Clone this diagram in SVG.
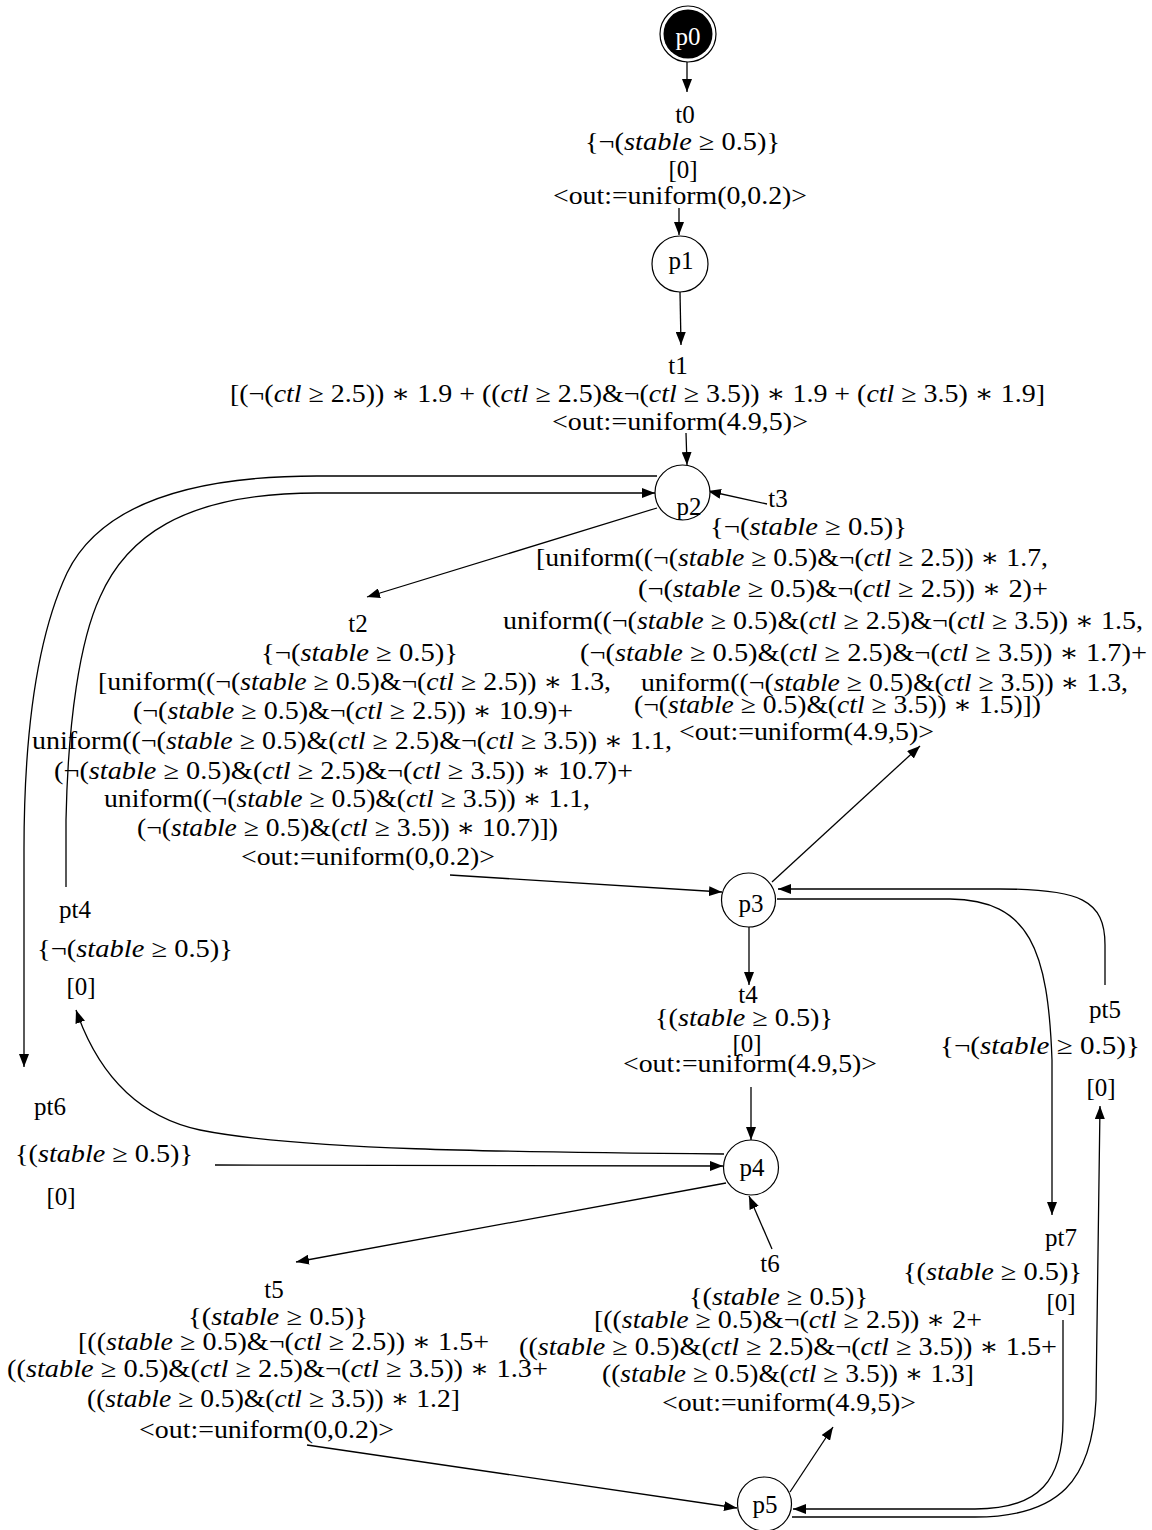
<svg xmlns="http://www.w3.org/2000/svg" width="1152" height="1530" viewBox="0 0 1152 1530">
<style>
.t{font-family:"Liberation Serif","DejaVu Serif",serif;font-size:25px;fill:#000}
.m{text-anchor:middle}
.w{fill:#fff}
.i{font-style:italic}
.n{fill:#fff;stroke:#000;stroke-width:1.2}
.e{fill:none;stroke:#000;stroke-width:1.3;marker-end:url(#ah)}
</style>
<defs>
<marker id="ah" markerWidth="14" markerHeight="10" refX="13" refY="5" orient="auto" markerUnits="userSpaceOnUse"><path d="M0,0 L13,5 L0,10 z" fill="#000"/></marker>
</defs>
<rect width="1152" height="1530" fill="#fff"/>
<g id="connectors">
<path class="e" d="M687,62 L687,92"/>
<path class="e" d="M679,208 L679,235"/>
<path class="e" d="M680,292 L681,345"/>
<path class="e" d="M686,433 L687,465"/>
<path class="e" d="M657,476 L317,476 C190,476 100,505 67,573 C45,620 24,700 24,850 L24,1067"/>
<path class="e" d="M66,887 L66,820 C68,720 80,640 100,597 C125,540 180,493 317,493 L655,493"/>
<path class="e" d="M657,508 L367,597"/>
<path class="e" d="M767,504 L708,491"/>
<path class="e" d="M772,882 L920,746"/>
<path class="e" d="M450,875 L722,892"/>
<path class="e" d="M749,927 L749,985"/>
<path class="e" d="M751,1087 L751,1140"/>
<path class="e" d="M777,899 L950,899 C1030,900 1048,950 1052,1060 L1052,1215"/>
<path class="e" d="M1105,985 L1105,945 C1105,900 1080,889 1000,889 L778,889"/>
<path class="e" d="M724,1154 C500,1152 300,1150 200,1130 C130,1115 95,1065 76,1010"/>
<path class="e" d="M215,1165 L723,1166"/>
<path class="e" d="M726,1183 L296,1262"/>
<path class="e" d="M772,1249 L749,1196"/>
<path class="e" d="M307,1445 L737,1508"/>
<path class="e" d="M790,1492 L833,1427"/>
<path class="e" d="M1063,1320 L1063,1420 C1063,1480 1040,1509 975,1509 L793,1509"/>
<path class="e" d="M792,1517 L975,1517 C1060,1517 1092,1480 1096,1400 L1100,1106"/>
</g>
<g id="p0"><circle class="n" cx="688" cy="34" r="28"/><circle cx="688" cy="34" r="24.5" fill="#000"/><text class="t w m" x="688" y="45">p0</text></g>
<g id="p1"><circle class="n" cx="680" cy="264" r="28"/><text class="t m" x="681" y="269">p1</text></g>
<g id="p2"><circle class="n" cx="682.5" cy="492.5" r="27.5"/><text class="t m" x="689" y="515">p2</text></g>
<g id="p3"><circle class="n" cx="748.5" cy="900" r="27"/><text class="t m" x="751" y="912">p3</text></g>
<g id="p4"><circle class="n" cx="751" cy="1167.5" r="27.5"/><text class="t m" x="752" y="1176">p4</text></g>
<g id="p5"><circle class="n" cx="764.5" cy="1504" r="27"/><text class="t m" x="765" y="1513">p5</text></g>
<g id="t0">
<text class="t m" x="685" y="123">t0</text>
<text class="t" x="585" y="150" textLength="195" lengthAdjust="spacingAndGlyphs">{¬(<tspan class="i">stable</tspan> ≥ 0.5)}</text>
<text class="t m" x="683" y="178">[0]</text>
<text class="t" x="553" y="204" textLength="254" lengthAdjust="spacingAndGlyphs">&lt;out:=uniform(0,0.2)&gt;</text>
</g>
<g id="t1">
<text class="t m" x="678" y="374">t1</text>
<text class="t" x="230" y="402" textLength="815" lengthAdjust="spacingAndGlyphs">[(¬(<tspan class="i">ctl</tspan> ≥ 2.5)) ∗ 1.9 + ((<tspan class="i">ctl</tspan> ≥ 2.5)&amp;¬(<tspan class="i">ctl</tspan> ≥ 3.5)) ∗ 1.9 + (<tspan class="i">ctl</tspan> ≥ 3.5) ∗ 1.9]</text>
<text class="t" x="552" y="430" textLength="256" lengthAdjust="spacingAndGlyphs">&lt;out:=uniform(4.9,5)&gt;</text>
</g>
<g id="t3">
<text class="t m" x="778" y="507">t3</text>
<text class="t" x="710" y="535" textLength="197" lengthAdjust="spacingAndGlyphs">{¬(<tspan class="i">stable</tspan> ≥ 0.5)}</text>
<text class="t" x="536" y="566" textLength="512" lengthAdjust="spacingAndGlyphs">[uniform((¬(<tspan class="i">stable</tspan> ≥ 0.5)&amp;¬(<tspan class="i">ctl</tspan> ≥ 2.5)) ∗ 1.7,</text>
<text class="t" x="638" y="597" textLength="410" lengthAdjust="spacingAndGlyphs">(¬(<tspan class="i">stable</tspan> ≥ 0.5)&amp;¬(<tspan class="i">ctl</tspan> ≥ 2.5)) ∗ 2)+</text>
<text class="t" x="503" y="629" textLength="640" lengthAdjust="spacingAndGlyphs">uniform((¬(<tspan class="i">stable</tspan> ≥ 0.5)&amp;(<tspan class="i">ctl</tspan> ≥ 2.5)&amp;¬(<tspan class="i">ctl</tspan> ≥ 3.5)) ∗ 1.5,</text>
<text class="t" x="580" y="661" textLength="567" lengthAdjust="spacingAndGlyphs">(¬(<tspan class="i">stable</tspan> ≥ 0.5)&amp;(<tspan class="i">ctl</tspan> ≥ 2.5)&amp;¬(<tspan class="i">ctl</tspan> ≥ 3.5)) ∗ 1.7)+</text>
<text class="t" x="641" y="691" textLength="487" lengthAdjust="spacingAndGlyphs">uniform((¬(<tspan class="i">stable</tspan> ≥ 0.5)&amp;(<tspan class="i">ctl</tspan> ≥ 3.5)) ∗ 1.3,</text>
<text class="t" x="634" y="713" textLength="407" lengthAdjust="spacingAndGlyphs">(¬(<tspan class="i">stable</tspan> ≥ 0.5)&amp;(<tspan class="i">ctl</tspan> ≥ 3.5)) ∗ 1.5)])</text>
<text class="t" x="679" y="740" textLength="255" lengthAdjust="spacingAndGlyphs">&lt;out:=uniform(4.9,5)&gt;</text>
</g>
<g id="t2">
<text class="t m" x="358" y="632">t2</text>
<text class="t" x="261" y="661" textLength="197" lengthAdjust="spacingAndGlyphs">{¬(<tspan class="i">stable</tspan> ≥ 0.5)}</text>
<text class="t" x="98" y="690" textLength="513" lengthAdjust="spacingAndGlyphs">[uniform((¬(<tspan class="i">stable</tspan> ≥ 0.5)&amp;¬(<tspan class="i">ctl</tspan> ≥ 2.5)) ∗ 1.3,</text>
<text class="t" x="133" y="719" textLength="440" lengthAdjust="spacingAndGlyphs">(¬(<tspan class="i">stable</tspan> ≥ 0.5)&amp;¬(<tspan class="i">ctl</tspan> ≥ 2.5)) ∗ 10.9)+</text>
<text class="t" x="32" y="749" textLength="640" lengthAdjust="spacingAndGlyphs">uniform((¬(<tspan class="i">stable</tspan> ≥ 0.5)&amp;(<tspan class="i">ctl</tspan> ≥ 2.5)&amp;¬(<tspan class="i">ctl</tspan> ≥ 3.5)) ∗ 1.1,</text>
<text class="t" x="54" y="779" textLength="579" lengthAdjust="spacingAndGlyphs">(¬(<tspan class="i">stable</tspan> ≥ 0.5)&amp;(<tspan class="i">ctl</tspan> ≥ 2.5)&amp;¬(<tspan class="i">ctl</tspan> ≥ 3.5)) ∗ 10.7)+</text>
<text class="t" x="104" y="807" textLength="486" lengthAdjust="spacingAndGlyphs">uniform((¬(<tspan class="i">stable</tspan> ≥ 0.5)&amp;(<tspan class="i">ctl</tspan> ≥ 3.5)) ∗ 1.1,</text>
<text class="t" x="137" y="836" textLength="421" lengthAdjust="spacingAndGlyphs">(¬(<tspan class="i">stable</tspan> ≥ 0.5)&amp;(<tspan class="i">ctl</tspan> ≥ 3.5)) ∗ 10.7)])</text>
<text class="t" x="241" y="865" textLength="254" lengthAdjust="spacingAndGlyphs">&lt;out:=uniform(0,0.2)&gt;</text>
</g>
<g id="t4">
<text class="t m" x="748" y="1003">t4</text>
<text class="t" x="655" y="1026" textLength="178" lengthAdjust="spacingAndGlyphs">{(<tspan class="i">stable</tspan> ≥ 0.5)}</text>
<text class="t m" x="747" y="1052">[0]</text>
<text class="t" x="623" y="1072" textLength="254" lengthAdjust="spacingAndGlyphs">&lt;out:=uniform(4.9,5)&gt;</text>
</g>
<g id="pt5">
<text class="t m" x="1105" y="1018">pt5</text>
<text class="t" x="940" y="1054" textLength="200" lengthAdjust="spacingAndGlyphs">{¬(<tspan class="i">stable</tspan> ≥ 0.5)}</text>
<text class="t m" x="1101" y="1096">[0]</text>
</g>
<g id="pt4">
<text class="t m" x="75" y="918">pt4</text>
<text class="t" x="37" y="957" textLength="196" lengthAdjust="spacingAndGlyphs">{¬(<tspan class="i">stable</tspan> ≥ 0.5)}</text>
<text class="t m" x="81" y="995">[0]</text>
</g>
<g id="pt6">
<text class="t m" x="50" y="1115">pt6</text>
<text class="t" x="15" y="1162" textLength="178" lengthAdjust="spacingAndGlyphs">{(<tspan class="i">stable</tspan> ≥ 0.5)}</text>
<text class="t m" x="61" y="1205">[0]</text>
</g>
<g id="pt7">
<text class="t m" x="1061" y="1246">pt7</text>
<text class="t" x="903" y="1280" textLength="179" lengthAdjust="spacingAndGlyphs">{(<tspan class="i">stable</tspan> ≥ 0.5)}</text>
<text class="t m" x="1061" y="1311">[0]</text>
</g>
<g id="t5">
<text class="t m" x="274" y="1298">t5</text>
<text class="t" x="188" y="1325" textLength="180" lengthAdjust="spacingAndGlyphs">{(<tspan class="i">stable</tspan> ≥ 0.5)}</text>
<text class="t" x="78" y="1350" textLength="411" lengthAdjust="spacingAndGlyphs">[((<tspan class="i">stable</tspan> ≥ 0.5)&amp;¬(<tspan class="i">ctl</tspan> ≥ 2.5)) ∗ 1.5+</text>
<text class="t" x="7" y="1377" textLength="541" lengthAdjust="spacingAndGlyphs">((<tspan class="i">stable</tspan> ≥ 0.5)&amp;(<tspan class="i">ctl</tspan> ≥ 2.5)&amp;¬(<tspan class="i">ctl</tspan> ≥ 3.5)) ∗ 1.3+</text>
<text class="t" x="87" y="1407" textLength="373" lengthAdjust="spacingAndGlyphs">((<tspan class="i">stable</tspan> ≥ 0.5)&amp;(<tspan class="i">ctl</tspan> ≥ 3.5)) ∗ 1.2]</text>
<text class="t" x="139" y="1438" textLength="255" lengthAdjust="spacingAndGlyphs">&lt;out:=uniform(0,0.2)&gt;</text>
</g>
<g id="t6">
<text class="t m" x="770" y="1272">t6</text>
<text class="t" x="689" y="1305" textLength="179" lengthAdjust="spacingAndGlyphs">{(<tspan class="i">stable</tspan> ≥ 0.5)}</text>
<text class="t" x="594" y="1328" textLength="388" lengthAdjust="spacingAndGlyphs">[((<tspan class="i">stable</tspan> ≥ 0.5)&amp;¬(<tspan class="i">ctl</tspan> ≥ 2.5)) ∗ 2+</text>
<text class="t" x="519" y="1355" textLength="538" lengthAdjust="spacingAndGlyphs">((<tspan class="i">stable</tspan> ≥ 0.5)&amp;(<tspan class="i">ctl</tspan> ≥ 2.5)&amp;¬(<tspan class="i">ctl</tspan> ≥ 3.5)) ∗ 1.5+</text>
<text class="t" x="602" y="1382" textLength="372" lengthAdjust="spacingAndGlyphs">((<tspan class="i">stable</tspan> ≥ 0.5)&amp;(<tspan class="i">ctl</tspan> ≥ 3.5)) ∗ 1.3]</text>
<text class="t" x="662" y="1411" textLength="254" lengthAdjust="spacingAndGlyphs">&lt;out:=uniform(4.9,5)&gt;</text>
</g>
</svg>
